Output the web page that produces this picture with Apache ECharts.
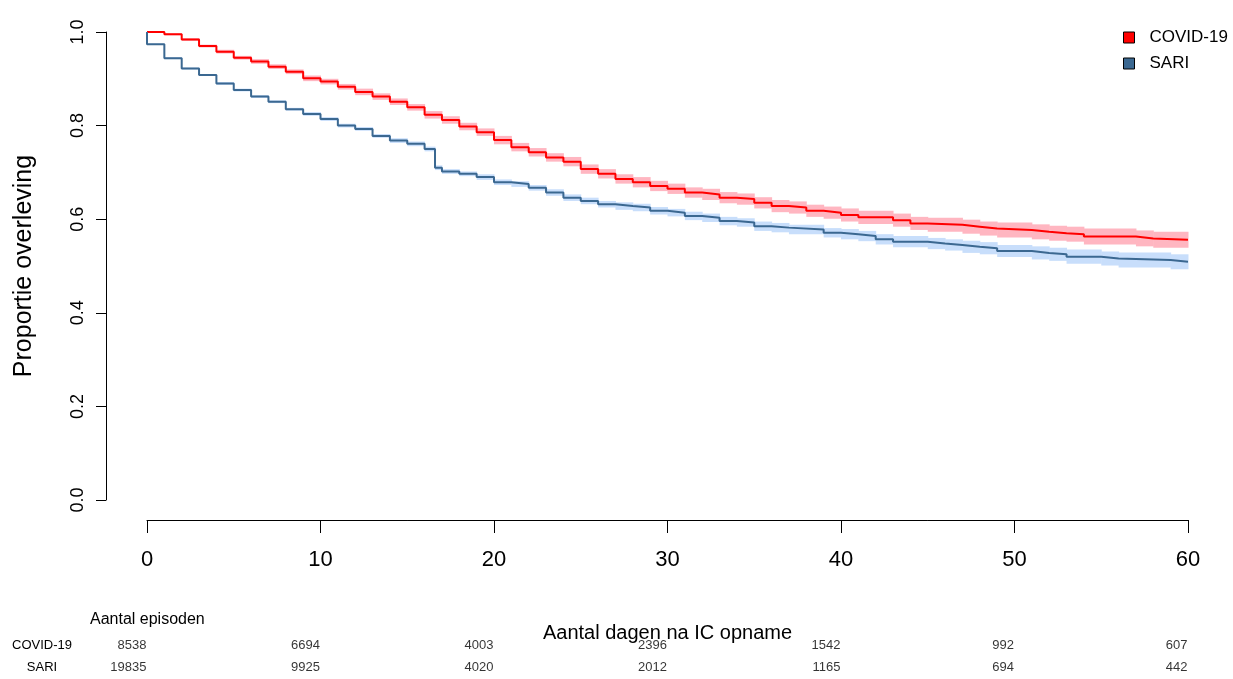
<!DOCTYPE html>
<html>
<head>
<meta charset="utf-8">
<script src="https://cdn.jsdelivr.net/npm/echarts@6/dist/echarts.min.js"></script>
<style>html,body{margin:0;padding:0;background:#fff}#c{width:1233px;height:679px}</style>
</head>
<body>
<div id="c"></div>
<script>
const covidT = [0,1,2,3,4,5,6,7,8,9,10,11,12,13,14,15,16,17,18,19,20,21,22,23,24,25,26,27,28,29,30,31,32,33,34,35,36,37,38,39,40,41,43,44,45,47,48,49,51,52,53,54,57,58,60];
const covidS = [1.0,0.995,0.984,0.970,0.958,0.945,0.937,0.926,0.915,0.901,0.894,0.883,0.872,0.862,0.851,0.839,0.823,0.812,0.798,0.786,0.769,0.754,0.743,0.732,0.723,0.707,0.697,0.686,0.679,0.671,0.665,0.657,0.653,0.646,0.643,0.635,0.628,0.625,0.618,0.614,0.609,0.604,0.598,0.591,0.588,0.584,0.580,0.577,0.573,0.570,0.568,0.563,0.559,0.556,0.556];
const covidHW = [0.001,0.002,0.003,0.003,0.004,0.004,0.005,0.005,0.005,0.006,0.006,0.006,0.007,0.007,0.007,0.007,0.008,0.008,0.008,0.008,0.009,0.009,0.009,0.009,0.010,0.010,0.010,0.010,0.011,0.011,0.011,0.011,0.012,0.012,0.012,0.012,0.013,0.013,0.013,0.013,0.014,0.014,0.014,0.014,0.015,0.015,0.015,0.016,0.016,0.016,0.016,0.017,0.017,0.017,0.017];

const sariT = [0,0,1,2,3,4,5,6,7,8,9,10,11,12,13,14,15,16,16.6,17,18,19,20,21,22,23,24,25,26,27,28,29,30,31,32,33,34,35,36,37,39,40,41,42,43,45,46,47,48,49,51,52,53,55,56,59,60];
const sariS = [1.0,0.974,0.944,0.922,0.908,0.890,0.876,0.862,0.851,0.835,0.825,0.814,0.800,0.793,0.778,0.768,0.761,0.750,0.710,0.702,0.697,0.690,0.679,0.675,0.667,0.657,0.646,0.639,0.632,0.628,0.625,0.618,0.614,0.607,0.603,0.596,0.593,0.585,0.582,0.578,0.571,0.568,0.564,0.557,0.552,0.548,0.545,0.541,0.538,0.532,0.528,0.525,0.520,0.516,0.513,0.509,0.509];
const sariHW = [0.000,0.001,0.002,0.002,0.002,0.003,0.003,0.003,0.003,0.003,0.004,0.004,0.004,0.004,0.004,0.005,0.005,0.005,0.005,0.005,0.005,0.006,0.006,0.006,0.006,0.007,0.007,0.007,0.007,0.008,0.008,0.008,0.008,0.009,0.009,0.009,0.009,0.010,0.010,0.010,0.010,0.011,0.011,0.011,0.012,0.012,0.012,0.013,0.013,0.013,0.014,0.014,0.015,0.015,0.016,0.016,0.016];

const seriesNames = ['COVID-19','SARI'];
const riskDays = [0,10,20,30,40,50,60];
const covidRisk = [8538,6694,4003,2396,1542,992,607];
const sariRisk = [19835,9925,4020,2012,1165,694,442];

const NARROW = "'Liberation Sans Narrow','Arial Narrow','Liberation Sans',sans-serif";
const REG = "'Liberation Sans',Arial,sans-serif";

function bandData(T,S,HW){
  const out=[];
  for(let i=0;i<T.length-1;i++){
    if(T[i+1]>T[i]) out.push([T[i],T[i+1],S[i]-HW[i],S[i]+HW[i]]);
  }
  return out;
}
function bandSeries(name,T,S,HW,color){
  return {
    name:name, type:'custom', xAxisIndex:0, yAxisIndex:0, z:1, silent:true,
    data:bandData(T,S,HW), encode:{x:[0,1],y:[2,3]},
    renderItem:function(params,api){
      const p0=api.coord([api.value(0),api.value(3)]);
      const p1=api.coord([api.value(1),api.value(2)]);
      return {type:'rect',shape:{x:p0[0],y:p0[1],width:p1[0]-p0[0]+0.5,height:p1[1]-p0[1]},style:{fill:color}};
    }
  };
}

const chart = echarts.init(document.getElementById('c'),null,{renderer:'canvas'});
const option = {
  animation:false,
  backgroundColor:'#fff',
  color:['#FF0000','#3B6891'],
  legend:{
    data:seriesNames, orient:'vertical', left:1118, top:24, itemGap:9,
    icon:'rect', itemWidth:11, itemHeight:11,
    itemStyle:{borderColor:'#000',borderWidth:1},
    textStyle:{fontFamily:NARROW,fontSize:17,color:'#000',padding:[0,0,0,10]}
  },
  graphic:[{type:'text',left:90,top:612,style:{text:'Aantal episoden',fontFamily:NARROW,fontSize:16,fill:'#000'}}],
  grid:[{left:147,right:45,top:32,bottom:179},{left:147,right:45,top:634,height:48}],
  xAxis:[
    {gridIndex:0,type:'value',min:0,max:60,interval:10,offset:20,
     axisLine:{onZero:false,lineStyle:{color:'#000',width:1}},
     axisTick:{length:13,lineStyle:{color:'#000'}},
     axisLabel:{margin:29,fontFamily:NARROW,fontSize:22,color:'#000'},
     splitLine:{show:false},
     name:'Aantal dagen na IC opname',nameLocation:'middle',nameGap:103,
     nameTextStyle:{fontFamily:NARROW,fontSize:20,color:'#000'}},
    {gridIndex:1,type:'value',min:0,max:60,show:false}
  ],
  yAxis:[
    {gridIndex:0,type:'value',min:0,max:1,interval:0.2,offset:41,
     axisLine:{show:true,onZero:false,lineStyle:{color:'#000',width:1}},
     axisTick:{show:true,length:10,lineStyle:{color:'#000'}},
     axisLabel:{rotate:90,margin:19,fontFamily:REG,fontSize:18,color:'#000',formatter:v=>v.toFixed(1)},
     splitLine:{show:false},
     name:'Proportie overleving',nameLocation:'middle',nameGap:69,
     nameTextStyle:{fontFamily:REG,fontSize:25,color:'#000'}},
    {gridIndex:1,type:'category',data:seriesNames,inverse:true,
     axisLine:{show:false},axisTick:{show:false},
     axisLabel:{align:'center',margin:105,fontFamily:NARROW,fontSize:13,color:'#000'}}
  ],
  series:[
    bandSeries('COVID-19 band',covidT,covidS,covidHW,'#FFB6C1'),
    bandSeries('SARI band',sariT,sariS,sariHW,'#C8DEFB'),
    {name:'COVID-19',type:'line',step:'end',showSymbol:false,z:3,
     data:covidT.map((t,i)=>[t,covidS[i]]),lineStyle:{width:2,color:'#FF0000'},itemStyle:{color:'#FF0000'}},
    {name:'SARI',type:'line',step:'end',showSymbol:false,z:3,
     data:sariT.map((t,i)=>[t,sariS[i]]),lineStyle:{width:2,color:'#3B6891'},itemStyle:{color:'#3B6891'}},
    {name:'riskCovid',type:'scatter',xAxisIndex:1,yAxisIndex:1,symbolSize:1,itemStyle:{color:'rgba(0,0,0,0)'},silent:true,
     data:riskDays.map((d,i)=>[d,0,covidRisk[i]]),
     label:{show:true,position:'left',distance:0,formatter:p=>String(p.value[2]),fontFamily:NARROW,fontSize:13,color:'#000'}},
    {name:'riskSari',type:'scatter',xAxisIndex:1,yAxisIndex:1,symbolSize:1,itemStyle:{color:'rgba(0,0,0,0)'},silent:true,
     data:riskDays.map((d,i)=>[d,1,sariRisk[i]]),
     label:{show:true,position:'left',distance:0,formatter:p=>String(p.value[2]),fontFamily:NARROW,fontSize:13,color:'#000'}}
  ]
};
chart.setOption(option);
</script>
</body>
</html>
